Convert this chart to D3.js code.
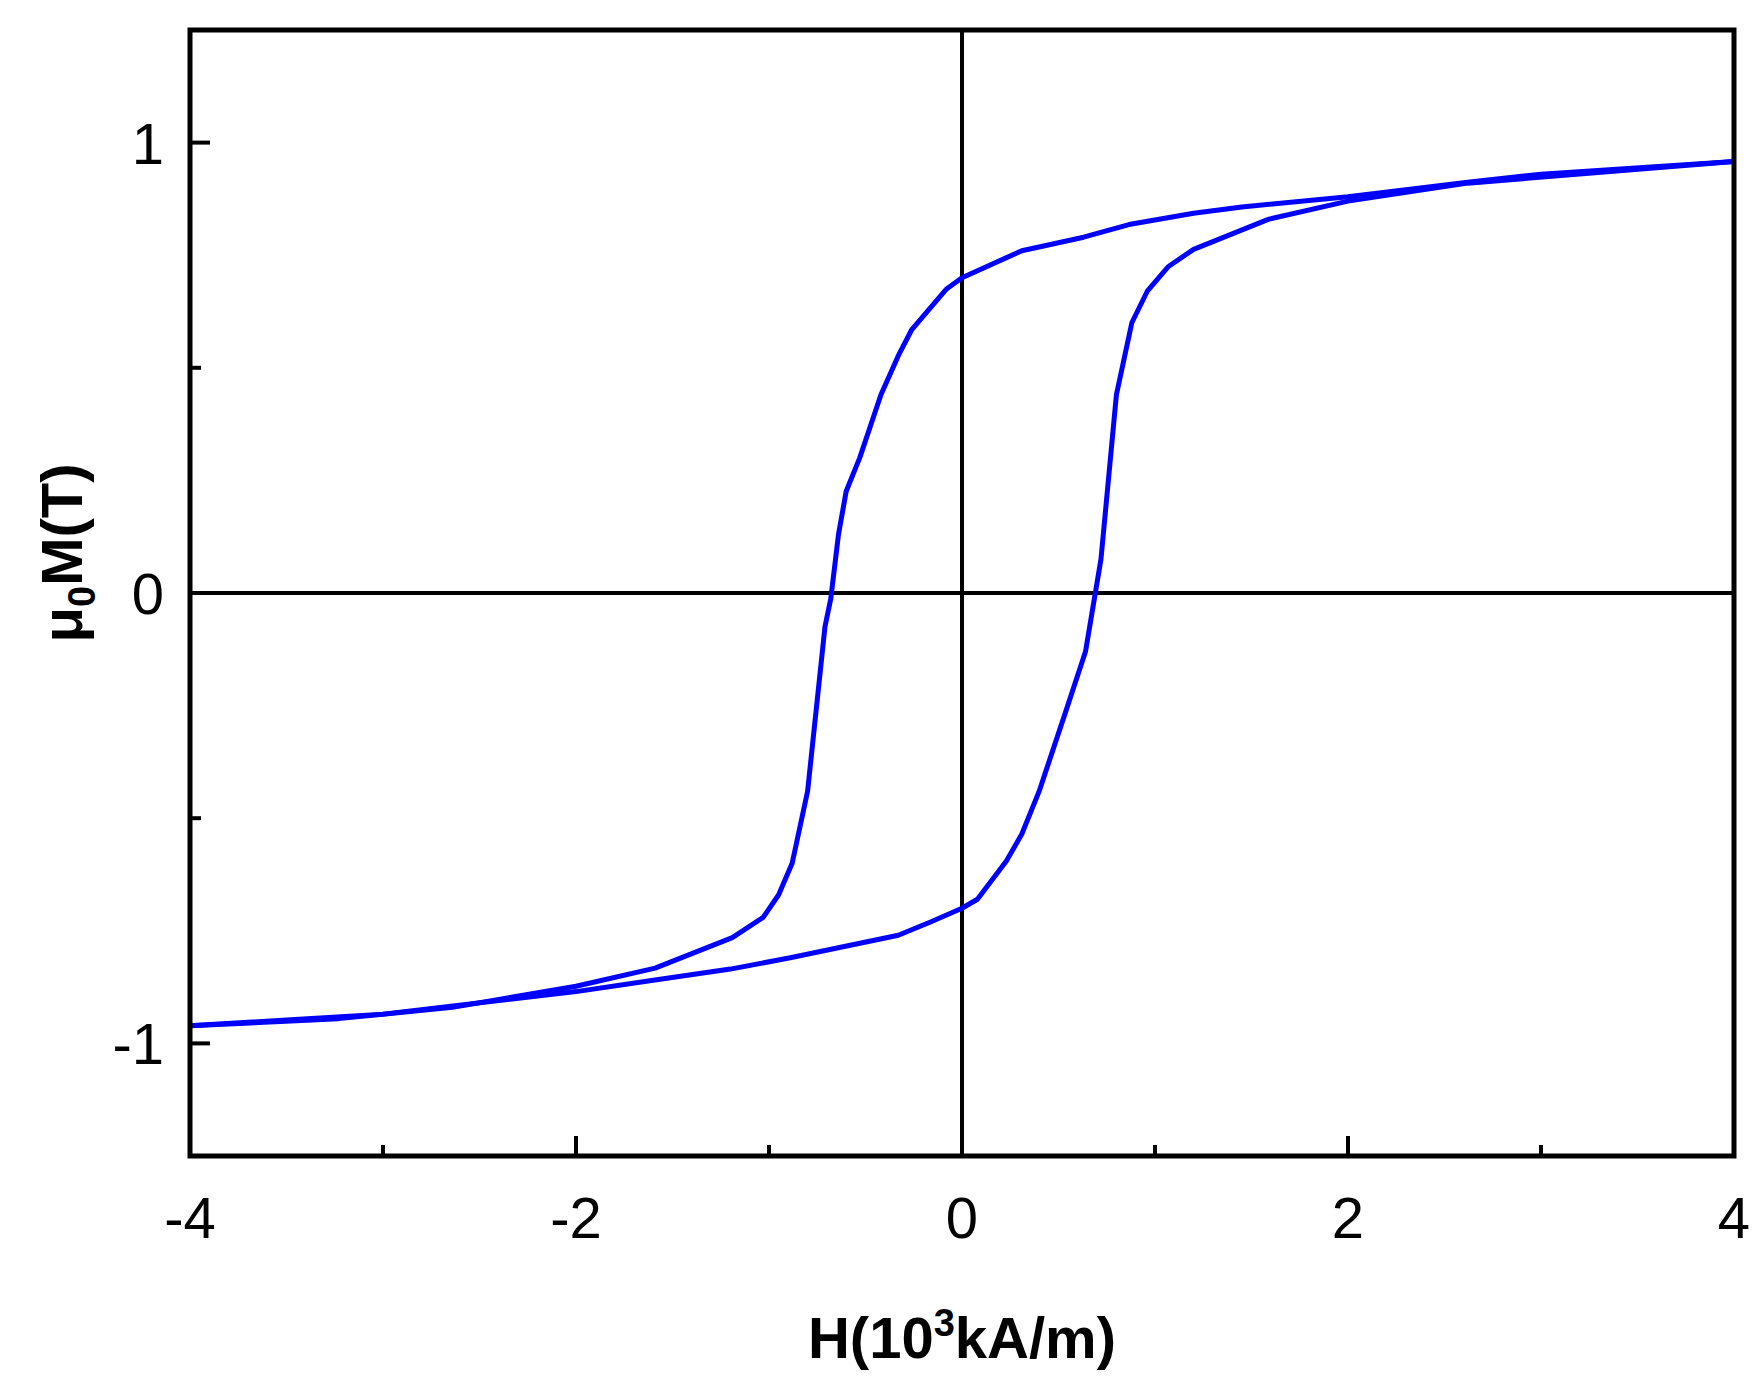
<!DOCTYPE html><html><head><meta charset="utf-8"><script src="https://cdn.jsdelivr.net/npm/d3@7"></script>
<style>body{margin:0;background:#fff}</style></head><body><svg id="c" width="1759" height="1381"></svg><script>
const upperH=[4,3.0,2.62,2.0,1.45,1.2,0.865,0.63,0.31,0,-0.08,-0.26,-0.33,-0.42,-0.53,-0.60,-0.64,-0.68,-0.71,-0.80,-0.88,-0.95,-1.03,-1.19,-1.59,-2.0,-2.64,-3.23,-4];
const upperM=[0.958,0.93,0.912,0.88,0.857,0.843,0.818,0.79,0.76,0.70,0.675,0.585,0.527,0.44,0.30,0.226,0.13,-0.013,-0.075,-0.44,-0.60,-0.67,-0.72,-0.765,-0.833,-0.873,-0.92,-0.945,-0.961];
const lowerH=[-4,-3,-2,-1.6,-1.2,-0.89,-0.33,-0.16,0,0.08,0.23,0.31,0.40,0.54,0.64,0.72,0.80,0.88,0.96,1.07,1.2,1.59,2.0,2.62,4];
const lowerM=[-0.961,-0.935,-0.885,-0.86,-0.835,-0.81,-0.76,-0.73,-0.70,-0.68,-0.595,-0.535,-0.44,-0.26,-0.13,0.075,0.44,0.60,0.67,0.725,0.763,0.83,0.87,0.91,0.958];
const xTicks=[-4,-3,-2,-1,0,1,2,3,4], xLabels=[-4,-2,0,2,4];
const yTicks=[-1,-0.5,0,0.5,1], yLabels=[-1,0,1];
const L=190,R=1734,T=30,B=1156;
const svg=d3.select("#c");
const x=d3.scaleLinear().domain([-4,4]).range([L,R]);
const y=d3.scaleLinear().domain([-1.25,1.25]).range([B,T]);
const g=svg.append("g");
g.append("line").attr("x1",x(0)).attr("x2",x(0)).attr("y1",T).attr("y2",B).attr("stroke","#000").attr("stroke-width",4);
g.append("line").attr("x1",L).attr("x2",R).attr("y1",y(0)).attr("y2",y(0)).attr("stroke","#000").attr("stroke-width",4);
const line=d3.line().x(d=>x(d[0])).y(d=>y(d[1]));
[[upperH,upperM],[lowerH,lowerM]].forEach(([h,m])=>{
 g.append("path").attr("d",line(h.map((v,i)=>[v,m[i]]))).attr("fill","none").attr("stroke","#0000ff").attr("stroke-width",5).attr("stroke-linejoin","round");
});
xTicks.forEach(t=>{const len=Number.isInteger(t/2)?20:11;
 g.append("line").attr("x1",x(t)).attr("x2",x(t)).attr("y1",B).attr("y2",B-len).attr("stroke","#000").attr("stroke-width",4);});
yTicks.forEach(t=>{const len=Number.isInteger(t)?20:11;
 g.append("line").attr("x1",L).attr("x2",L+len).attr("y1",y(t)).attr("y2",y(t)).attr("stroke","#000").attr("stroke-width",4);});
g.append("rect").attr("x",L).attr("y",T).attr("width",R-L).attr("height",B-T).attr("fill","none").attr("stroke","#000").attr("stroke-width",5);
const f="'Liberation Sans',Arial,sans-serif";
xLabels.forEach(t=>g.append("text").attr("x",x(t)).attr("y",1238).attr("text-anchor","middle").attr("font-family",f).attr("font-size",58).text(t));
yLabels.forEach(t=>g.append("text").attr("x",164).attr("y",y(t)+21).attr("text-anchor","end").attr("font-family",f).attr("font-size",58).text(t));
const xt=g.append("text").attr("x",x(0)).attr("y",1358).attr("text-anchor","middle").attr("font-family",f).attr("font-size",58).attr("font-weight","bold");
xt.append("tspan").text("H(10");xt.append("tspan").attr("font-size",38).attr("dy",-22).text("3");xt.append("tspan").attr("dy",22).text("kA/m)");
const yt=g.append("text").attr("transform","translate(82,553) rotate(-90)").attr("text-anchor","middle").attr("font-family",f).attr("font-size",58).attr("font-weight","bold");
yt.append("tspan").text("μ");yt.append("tspan").attr("font-size",38).attr("dy",13).text("0");yt.append("tspan").attr("dy",-13).text("M(T)");
</script></body></html>
